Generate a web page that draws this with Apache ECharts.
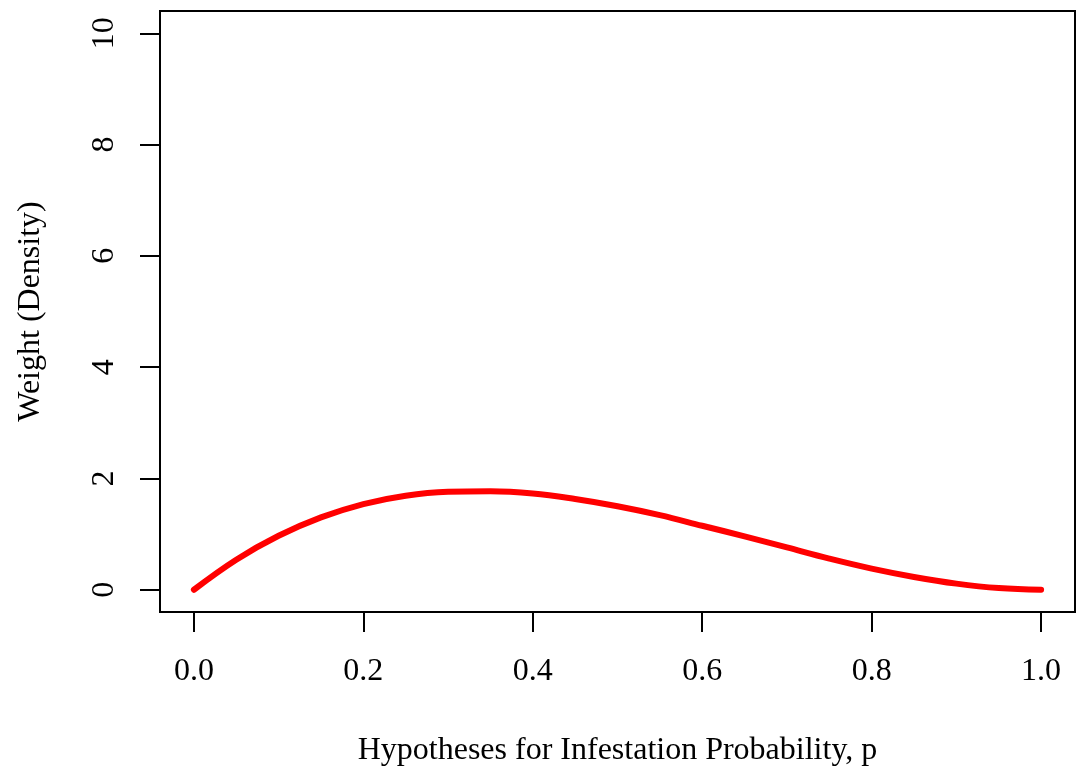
<!DOCTYPE html>
<html>
<head>
<meta charset="utf-8">
<script src="https://cdn.jsdelivr.net/npm/echarts@6/dist/echarts.min.js"></script>
<style>
  html, body { margin: 0; padding: 0; background: #fff; }
  #chart { width: 1080px; height: 772px; }
</style>
</head>
<body>
<div id="chart"></div>
<script>
// hypotheses p and their weights
var pValues = [0, 0.05, 0.1, 0.15, 0.2, 0.25, 0.3, 0.35, 0.4, 0.45, 0.5,
  0.55, 0.6, 0.65, 0.7, 0.75, 0.8, 0.85, 0.9, 0.95, 1.0];
var weights = [0, 0.54, 0.97, 1.30, 1.54, 1.69, 1.76, 1.77, 1.73, 1.63, 1.50,
  1.34, 1.15, 0.96, 0.76, 0.56, 0.38, 0.23, 0.11, 0.03, 0];
var xTicks = [0, 0.2, 0.4, 0.6, 0.8, 1.0];
var yTicks = [0, 2, 4, 6, 8, 10];

var font = 'Liberation Serif';
var fontSize = 32;
var chart = echarts.init(document.getElementById('chart'));

chart.setOption({
  animation: false,
  backgroundColor: '#fff',
  grid: {
    left: 160, top: 11, width: 915, height: 608,
    show: true, borderColor: '#000', borderWidth: 2,
    containLabel: false
  },
  xAxis: {
    type: 'value',
    min: -0.04, max: 1.04,
    name: 'Hypotheses for Infestation Probability, p',
    nameLocation: 'middle',
    nameGap: 123,
    nameTextStyle: { fontFamily: font, fontSize: fontSize, color: '#000' },
    axisLine: { show: true, onZero: false, lineStyle: { color: '#000', width: 2 } },
    axisTick: { show: true, inside: false, length: 20, customValues: xTicks, lineStyle: { color: '#000', width: 2 } },
    axisLabel: {
      customValues: xTicks, margin: 44,
      fontFamily: font, fontSize: fontSize, color: '#000',
      formatter: function (v) { return v.toFixed(1); }
    },
    splitLine: { show: false }
  },
  yAxis: {
    type: 'value',
    min: -0.4, max: 10.4,
    name: 'Weight (Density)',
    nameLocation: 'middle',
    nameGap: 113,
    nameRotate: 90,
    nameTextStyle: { fontFamily: font, fontSize: fontSize, color: '#000' },
    axisLine: { show: true, onZero: false, lineStyle: { color: '#000', width: 2 } },
    axisTick: { show: true, inside: false, length: 20, customValues: yTicks, lineStyle: { color: '#000', width: 2 } },
    axisLabel: {
      customValues: yTicks, margin: 39, rotate: 90,
      fontFamily: font, fontSize: fontSize, color: '#000'
    },
    splitLine: { show: false }
  },
  series: [{
    type: 'line',
    data: pValues.map(function (p, i) { return [p, weights[i]]; }),
    smooth: 0.4,
    showSymbol: false,
    lineStyle: { color: '#ff0000', width: 6, cap: 'round', join: 'round' }
  }]
});
</script>
</body>
</html>
